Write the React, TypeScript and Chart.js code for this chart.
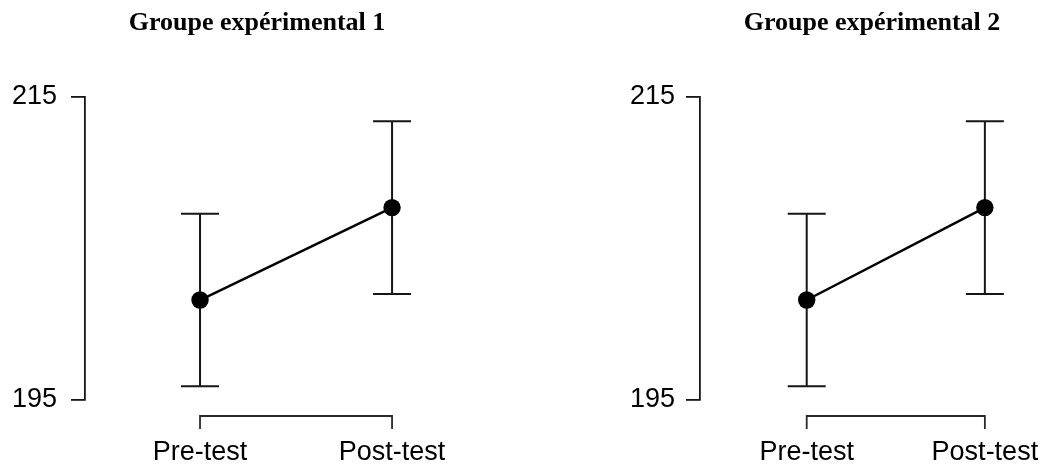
import React, { useEffect, useRef } from 'react';
import { Chart, registerables } from 'chart.js';

Chart.register(...registerables);

// ---- data ----
const categories = ['Pre-test', 'Post-test'];
const panelTitles = ['Groupe expérimental 1', 'Groupe expérimental 2'];
const group1Means = [201.6, 207.7];
const group1Errors = [5.7, 5.7];
const group2Means = [201.6, 207.7];
const group2Errors = [5.7, 5.7];
const yTickValues = [195, 215];
const yMin = 195;
const yMax = 215;

const SANS = "'Liberation Sans', Arial, Helvetica, sans-serif";
const SERIF = "'Liberation Serif', 'Times New Roman', Times, serif";
const INK = '#161616';

type PanelLayout = {
  left: number;
  width: number;
  padLeft: number;
  padRight: number;
  axisWidth: number;
  xMin: number;
  xMax: number;
  tickPad: number;
};

const leftLayout: PanelLayout = {
  left: 0, width: 524, padLeft: 0, padRight: 10, axisWidth: 85,
  xMin: 0.401, xMax: 2.635, tickPad: 14,
};
const rightLayout: PanelLayout = {
  left: 524, width: 590, padLeft: 106, padRight: 0, axisWidth: 70,
  xMin: 0.401, xMax: 2.676, tickPad: 11,
};

const errorBarPlugin = {
  id: 'errorBars',
  beforeDatasetsDraw(chart: any) {
    const errs: number[] = chart.options.plugins.errorBars.errors;
    const means: number[] = chart.options.plugins.errorBars.means;
    const xs = chart.scales.x;
    const ys = chart.scales.y;
    const ctx = chart.ctx;
    ctx.save();
    ctx.strokeStyle = INK;
    ctx.lineWidth = 2;
    means.forEach((m, i) => {
      const px = xs.getPixelForValue(i + 1);
      const top = ys.getPixelForValue(m + errs[i]);
      const bot = ys.getPixelForValue(m - errs[i]);
      const half = 19;
      ctx.beginPath();
      ctx.moveTo(px, top);
      ctx.lineTo(px, bot);
      ctx.moveTo(px - half, top);
      ctx.lineTo(px + half, top);
      ctx.moveTo(px - half, bot);
      ctx.lineTo(px + half, bot);
      ctx.stroke();
    });
    ctx.restore();
  },
};

const bracketAxisPlugin = {
  id: 'bracketAxis',
  afterDraw(chart: any) {
    const xs = chart.scales.x;
    const area = chart.chartArea;
    const ctx = chart.ctx;
    const px = categories.map((_, i) => xs.getPixelForValue(i + 1));
    const y0 = area.bottom + 16;
    ctx.save();
    ctx.strokeStyle = '#2a2a2a';
    ctx.lineWidth = 1.8;
    ctx.beginPath();
    ctx.moveTo(px[0], y0 + 13);
    ctx.lineTo(px[0], y0);
    ctx.lineTo(px[px.length - 1], y0);
    ctx.lineTo(px[px.length - 1], y0 + 13);
    px.slice(1, -1).forEach((p) => {
      ctx.moveTo(p, y0);
      ctx.lineTo(p, y0 + 13);
    });
    ctx.stroke();
    ctx.fillStyle = '#000';
    ctx.font = `27px ${SANS}`;
    ctx.textAlign = 'center';
    ctx.textBaseline = 'alphabetic';
    categories.forEach((c, i) => {
      ctx.fillText(c, px[i], y0 + 44);
    });
    ctx.restore();
  },
};

function Panel({ title, means, errors, layout }: { title: string; means: number[]; errors: number[]; layout: PanelLayout }) {
  const ref = useRef<HTMLCanvasElement>(null);
  useEffect(() => {
    const chart = new Chart(ref.current as HTMLCanvasElement, {
      type: 'line',
      data: {
        datasets: [
          {
            data: means.map((m, i) => ({ x: i + 1, y: m })),
            borderColor: '#000',
            borderWidth: 2.5,
            pointRadius: 8.7,
            pointHoverRadius: 8.7,
            pointBackgroundColor: '#000',
            pointBorderWidth: 0,
            tension: 0,
          },
        ],
      },
      options: {
        animation: false,
        responsive: false,
        devicePixelRatio: 1,
        layout: {
          padding: { left: layout.padLeft, right: layout.padRight, top: 0, bottom: 67 },
        },
        events: [],
        plugins: {
          legend: { display: false },
          tooltip: { enabled: false },
          title: {
            display: true,
            text: title,
            color: '#000',
            font: { family: SERIF, size: 26, weight: 'bold' },
            padding: { top: 7.6, bottom: 58.2 },
          },
          // @ts-ignore
          errorBars: { means, errors },
        },
        scales: {
          x: {
            type: 'linear',
            display: false,
            min: layout.xMin,
            max: layout.xMax,
          },
          y: {
            type: 'linear',
            min: yMin,
            max: yMax,
            afterFit: (axis: any) => {
              axis.width = layout.axisWidth;
            },
            afterBuildTicks: (axis: any) => {
              axis.ticks = yTickValues.map((v) => ({ value: v }));
            },
            border: { display: true, color: INK, width: 1.8 },
            grid: {
              display: true,
              drawOnChartArea: false,
              drawTicks: true,
              tickLength: 14,
              color: INK,
              lineWidth: 1.8,
            },
            ticks: {
              color: '#000',
              padding: layout.tickPad,
              font: { family: SANS, size: 27 },
              callback: (v: any) => String(v),
            },
          },
        },
      },
      plugins: [errorBarPlugin, bracketAxisPlugin],
    } as any);
    return () => chart.destroy();
  }, []);
  return (
    <canvas
      ref={ref}
      width={layout.width}
      height={467}
      style={{ position: 'absolute', left: layout.left, top: 0, width: layout.width, height: 467 }}
    />
  );
}

export default function App() {
  return (
    <div style={{ position: 'fixed', left: 0, top: 0, width: 1049, height: 467, background: '#fff', overflow: 'hidden' }}>
      <Panel title={panelTitles[0]} means={group1Means} errors={group1Errors} layout={leftLayout} />
      <Panel title={panelTitles[1]} means={group2Means} errors={group2Errors} layout={rightLayout} />
    </div>
  );
}
